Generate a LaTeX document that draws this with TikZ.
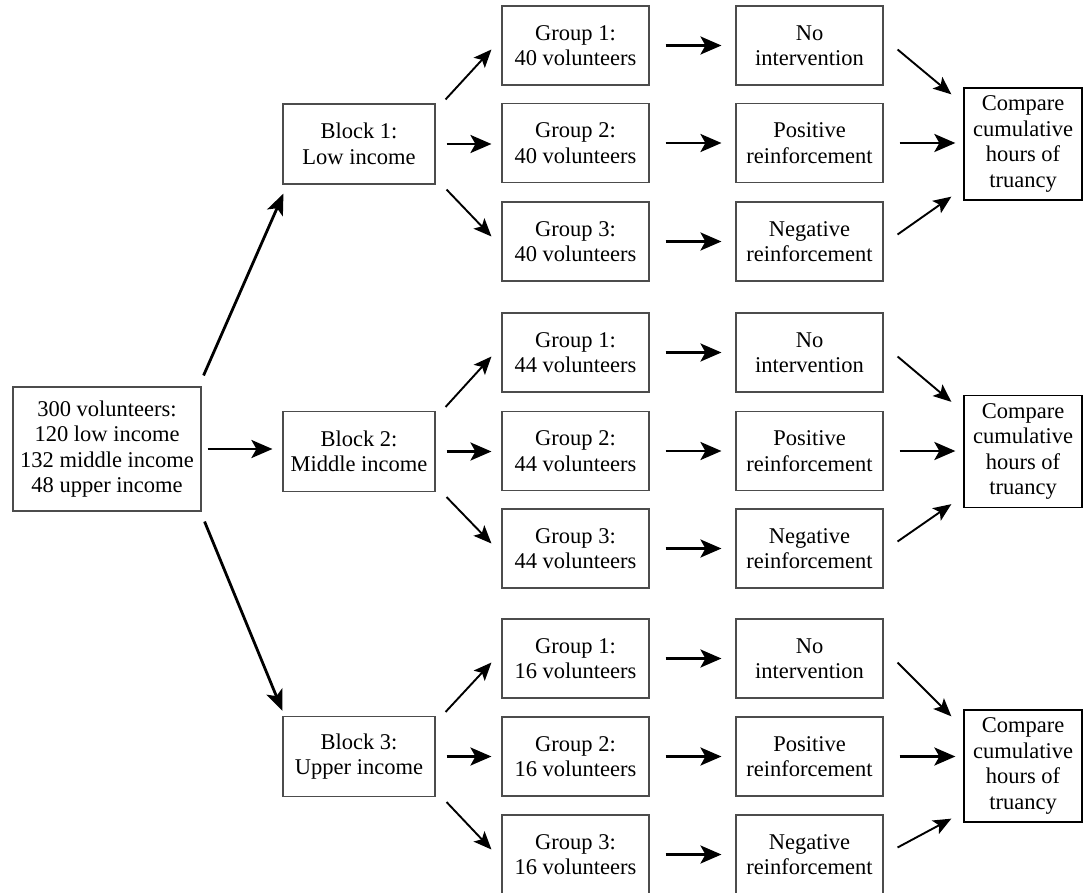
\documentclass[tikz,border=0pt]{standalone}
\usepackage{fontspec}
\setmainfont{Liberation Serif}
\usetikzlibrary{arrows.meta}
\begin{document}
\begin{tikzpicture}[x=1pt,y=-1pt,
  box/.style={draw=black!70,line width=1.1pt,inner sep=0pt,align=center,
    font=\fontsize{22.5}{25.5}\selectfont},
  rootbox/.style={box,minimum width=188pt,minimum height=124pt},
  blockbox/.style={box,minimum width=152pt,minimum height=80pt},
  groupbox/.style={box,minimum width=147pt,minimum height=79pt},
  cmpbox/.style={box,draw=black,line width=1.3pt,minimum width=118pt,minimum height=112pt},
  harrow/.style={line width=2.8pt,-{Stealth[length=21pt,width=18pt,inset=5pt]}},
  darrow/.style={line width=1.9pt,-{Stealth[length=18pt,width=15pt,inset=4pt]}},
  rarrow/.style={line width=2.8pt,-{Stealth[length=21pt,width=17pt,inset=5pt]}},
]
\useasboundingbox (0,0) rectangle (1083,893);

\node[rootbox] (root) at (107,449) {300 volunteers:\\120 low income\\132 middle income\\48 upper income};

\node[blockbox] (b1) at (359,144) {Block 1:\\Low income};
\node[blockbox] (b2) at (359,451.5) {Block 2:\\Middle income};
\node[blockbox] (b3) at (359,756.5) {Block 3:\\Upper income};

% section 1
\node[groupbox] (g11) at (575.5,45.5) {Group 1:\\40 volunteers};
\node[groupbox] (g12) at (575.5,143) {Group 2:\\40 volunteers};
\node[groupbox] (g13) at (575.5,241.5) {Group 3:\\40 volunteers};
\node[groupbox] (t11) at (809.5,45.5) {No\\intervention};
\node[groupbox] (t12) at (809.5,143) {Positive\\reinforcement};
\node[groupbox] (t13) at (809.5,241.5) {Negative\\reinforcement};
\node[cmpbox] (c1) at (1023,144) {Compare\\cumulative\\hours of\\truancy};

% section 2
\node[groupbox] (g21) at (575.5,352.5) {Group 1:\\44 volunteers};
\node[groupbox] (g22) at (575.5,451) {Group 2:\\44 volunteers};
\node[groupbox] (g23) at (575.5,548.5) {Group 3:\\44 volunteers};
\node[groupbox] (t21) at (809.5,352.5) {No\\intervention};
\node[groupbox] (t22) at (809.5,451) {Positive\\reinforcement};
\node[groupbox] (t23) at (809.5,548.5) {Negative\\reinforcement};
\node[cmpbox] (c2) at (1023,451.5) {Compare\\cumulative\\hours of\\truancy};

% section 3
\node[groupbox] (g31) at (575.5,658.5) {Group 1:\\16 volunteers};
\node[groupbox] (g32) at (575.5,756.5) {Group 2:\\16 volunteers};
\node[groupbox] (g33) at (575.5,854.5) {Group 3:\\16 volunteers};
\node[groupbox] (t31) at (809.5,658.5) {No\\intervention};
\node[groupbox] (t32) at (809.5,756.5) {Positive\\reinforcement};
\node[groupbox] (t33) at (809.5,854.5) {Negative\\reinforcement};
\node[cmpbox] (c3) at (1023,766) {Compare\\cumulative\\hours of\\truancy};

% root to blocks
\draw[rarrow] ([shift={(2pt,11pt)}]root.north east) -- ([shift={(1pt,-9pt)}]b1.south west);
\draw[harrow] ([xshift=6pt]root.east) -- ([xshift=-10pt]root.east -| b2.west);
\draw[rarrow] ([shift={(3pt,-10pt)}]root.south east) -- ([shift={(0pt,5pt)}]b3.north west);

\foreach \s in {1,2,3}{
  % block to groups
  \draw[darrow] ([shift={(10pt,4pt)}]b\s.north east) -- ([shift={(-10pt,-4pt)}]g\s1.west);
  \draw[harrow] ([xshift=11pt]b\s.east) -- ([xshift=-10pt]b\s.east -| g\s2.west);
  \draw[darrow] ([shift={(11pt,-5pt)}]b\s.south east) -- ([shift={(-10pt,5pt)}]g\s3.west);
  % groups to treatments
  \draw[harrow] ([xshift=16pt]g\s1.east) -- ([xshift=-14pt]t\s1.west);
  \draw[harrow] ([xshift=16pt]g\s2.east) -- ([xshift=-14pt]t\s2.west);
  \draw[harrow] ([xshift=16pt]g\s3.east) -- ([xshift=-14pt]t\s3.west);
  % treatments to compare
  \draw[darrow] ([shift={(14pt,-4pt)}]t\s1.east) -- ([shift={(-12pt,-7pt)}]c\s.north west);
  \draw[harrow] ([xshift=16pt]t\s2.east) -- ([xshift=-8pt]t\s2.east -| c\s.west);
  \draw[darrow] ([shift={(14pt,7pt)}]t\s3.east) -- ([shift={(-12pt,4pt)}]c\s.south west);
}
\end{tikzpicture}
\end{document}
